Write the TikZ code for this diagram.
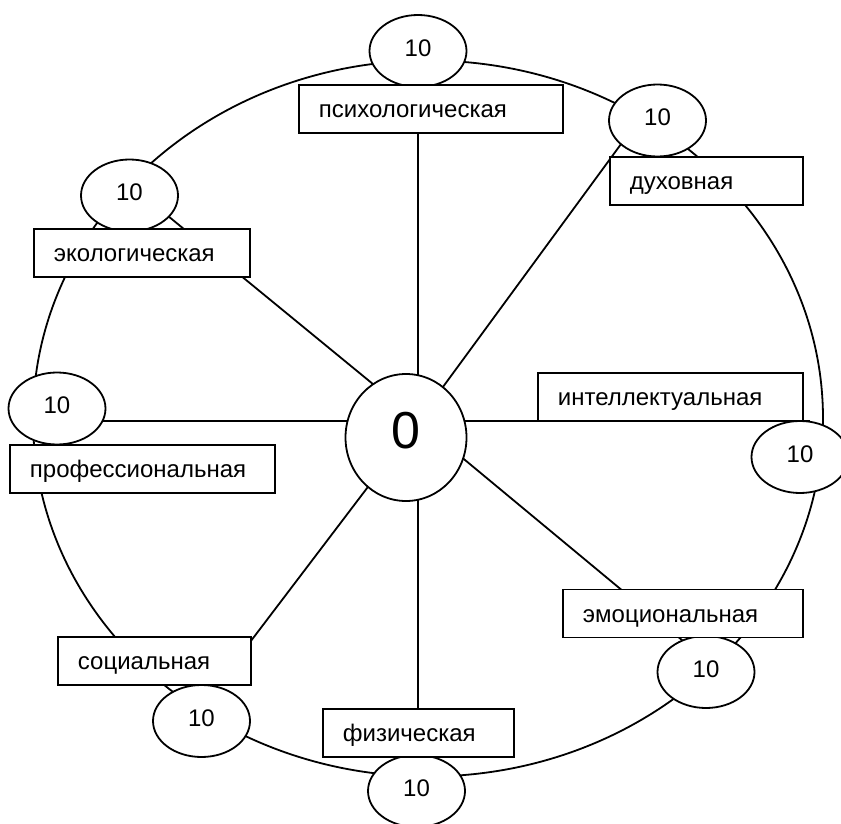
\documentclass[tikz,border=0pt]{standalone}
\usepackage{fontspec}
\setmainfont{Liberation Sans}
\usetikzlibrary{shapes.geometric}
\newcommand{\tenlbl}{\raisebox{3pt}[\height][\depth]{10}\hspace{12pt}}
\begin{document}
\begin{tikzpicture}[x=1pt,y=-1pt,
  line width=1.8pt,
  every node/.style={font=\fontsize{24}{28}\selectfont},
  val/.style={draw, fill=white, ellipse, minimum width=97pt, minimum height=72pt, inner sep=0pt},
  lbl/.style={draw, fill=white, rectangle, minimum height=48pt, inner xsep=20pt, inner ysep=0pt,
              anchor=west, align=left, text height=17pt, text depth=0pt},
  hubnode/.style={draw, fill=white, ellipse, minimum width=121pt, minimum height=127pt, inner sep=0pt,
              font=\fontsize{52}{60}\selectfont}
]
\useasboundingbox (0,0) rectangle (841,824);
% outer wheel
\draw (428,418.5) ellipse [x radius=395, y radius=358];
% spokes
\coordinate (hub) at (418,421);
\coordinate (eN) at (418,100);
\coordinate (eNE) at (624,140);
\coordinate (eE) at (810,421);
\coordinate (eSE) at (700,655);
\coordinate (eS) at (418,780);
\coordinate (eSW) at (200,708);
\coordinate (eW) at (60,421);
\coordinate (eNW) at (140,193);
\foreach \e in {eN,eNE,eE,eSE,eS,eSW,eW,eNW} \draw (hub) -- (\e);
% centre
\node[hubnode] (zero) at (406,437.5) {\raisebox{7pt}[\height][\depth]{0}};
% value ellipses
\node[val] (vN)  at (418,51)     {\tenlbl};
\node[val] (vNE) at (657.5,120.5) {\tenlbl};
\node[val] (vNW) at (129.5,195.5) {\tenlbl};
\node[val] (vW)  at (57,408.5)   {\tenlbl};
\node[val] (vE)  at (800,457)    {\tenlbl};
\node[val] (vSE) at (706,672)    {\tenlbl};
\node[val] (vSW) at (201.5,721)  {\tenlbl};
\node[val] (vS)  at (416.5,791)  {\tenlbl};
% labels
\node[lbl, text width=224pt] (bN)  at (298,109)   {психологическая};
\node[lbl, text width=153pt] (bNE) at (609,181)   {духовная};
\node[lbl, text width=176pt] (bNW) at (33,253)    {экологическая};
\node[lbl, text width=225pt] (bW)  at (9,469)     {профессиональная};
\node[lbl, text width=225pt] (bE)  at (537,397)   {интеллектуальная};
\node[lbl, text width=200pt] (bSE) at (562,613.5) {эмоциональная};
\node[lbl, text width=153pt] (bSW) at (57,661)    {социальная};
\node[lbl, text width=151pt] (bS)  at (322,733)   {физическая};
\end{tikzpicture}
\end{document}
